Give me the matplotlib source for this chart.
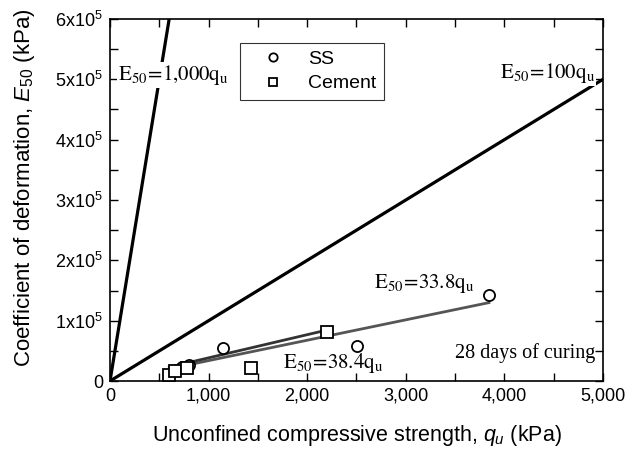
import matplotlib.pyplot as plt
from matplotlib.ticker import MultipleLocator, FixedLocator
import numpy as np

plt.rcParams['font.family'] = ['Liberation Sans', 'DejaVu Sans']
plt.rcParams['mathtext.fontset'] = 'custom'
plt.rcParams['mathtext.rm'] = 'Liberation Sans'
plt.rcParams['mathtext.it'] = 'Liberation Sans:italic'

# data
ss_qu = [727, 800, 1143, 2502, 3843]
ss_e50 = [24000, 26000, 55000, 58000, 142000]
cem_qu = [602, 659, 784, 1430, 2197]
cem_e50 = [10000, 17000, 21000, 21000, 81000]
ref_slopes = [1000, 100]
fit_ss = 33.8
fit_cem = 38.4
y_ticks = [0, 1e5, 2e5, 3e5, 4e5, 5e5, 6e5]
y_labels = ['0'] + [r'%dx10$^5$' % i for i in range(1, 7)]
x_ticks = [0, 1000, 2000, 3000, 4000, 5000]
x_labels = ['0', '1,000', '2,000', '3,000', '4,000', '5,000']

fig = plt.figure(figsize=(6.37, 4.5), dpi=100)
ax = fig.add_axes([0.1727, 0.1533, 0.7739, 0.8045])

xx = np.array([0, 5000])
for s in ref_slopes:
    ax.plot(xx, s * xx, color='black', lw=2.3, zorder=2)

q = np.array([min(ss_qu), max(ss_qu)])
ax.plot(q, fit_ss * q, color='#555555', lw=2, zorder=2)
q = np.array([min(cem_qu), max(cem_qu)])
ax.plot(q, fit_cem * q, color='#333333', lw=2, zorder=2)

ax.plot(ss_qu, ss_e50, 'o', ms=8, mfc='white', mec='black', mew=1.3, label='SS', zorder=3)
ax.plot(cem_qu, cem_e50, 's', ms=8, mfc='white', mec='black', mew=1.3, label='Cement', zorder=3)

serif = dict(fontsize=15, math_fontfamily='stix', zorder=4)
box = dict(facecolor='white', edgecolor='none', pad=0.5)
ax.text(80, 5.07e5, r'$\mathrm{E_{50}\!=\!1{,}000q_u}$', va='center', bbox=box, **serif)
ax.text(3960, 5.1e5, r'$\mathrm{E_{50}\!=\!100q_u}$', va='center', bbox=box, **serif)
ax.text(2680, 1.62e5, r'$\mathrm{E_{50}\!=\!33.8q_u}$', va='center', **serif)
ax.text(1750, 0.3e5, r'$\mathrm{E_{50}\!=\!38.4q_u}$', va='center', **serif)
ax.text(3500, 0.46e5, '28 days of curing', va='center', fontsize=14.5,
        family='Liberation Serif', zorder=4)

ax.set_xlim(0, 5000)
ax.set_ylim(0, 6e5)
ax.xaxis.set_major_locator(FixedLocator(x_ticks))
ax.set_xticklabels(x_labels)
ax.yaxis.set_major_locator(FixedLocator(y_ticks))
ax.set_yticklabels(y_labels)
ax.xaxis.set_minor_locator(MultipleLocator(500))
ax.yaxis.set_minor_locator(MultipleLocator(5e4))
ax.tick_params(which='both', direction='in', top=True, right=True, labelsize=13, width=1)
ax.tick_params(which='major', length=6, pad=5)
ax.tick_params(which='minor', length=6)
for sp in ax.spines.values():
    sp.set_linewidth(1.2)

ax.set_xlabel(r'Unconfined compressive strength, $q_u$ (kPa)', fontsize=15.5, labelpad=13)
ax.set_ylabel(r'Coefficient of deformation, $E_{50}$ (kPa)', fontsize=16)
ax.yaxis.set_label_coords(-0.148, 0.533)

leg = ax.legend(loc='upper left', bbox_to_anchor=(0.263, 0.935), fancybox=False,
                edgecolor='black', fontsize=14, handletextpad=0.5, borderpad=0.4,
                borderaxespad=0, handlelength=2.6, markerscale=0.75, labelspacing=0.35)
leg.get_frame().set_linewidth(0.8)

fig.savefig('out.png', dpi=100)
